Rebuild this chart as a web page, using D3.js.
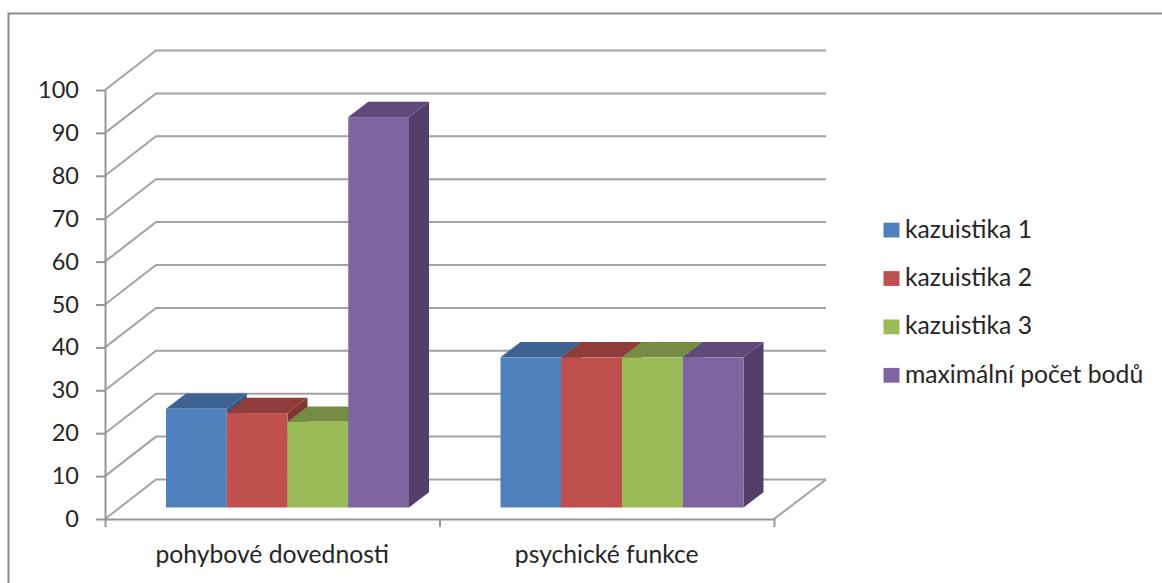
<!DOCTYPE html>
<html>
<head>
<meta charset="utf-8">
<script src="https://cdnjs.cloudflare.com/ajax/libs/d3/7.8.5/d3.min.js"></script>
<style>
html, body { margin: 0; padding: 0; background: #fff; }
svg { display: block; }
text { font-family: Lato, "Open Sans", sans-serif; fill: #262626; }
</style>
</head>
<body>
<svg id="chart" width="1162" height="583"></svg>
<script>
var categories = ["pohybové dovednosti", "psychické funkce"];
var seriesNames = ["kazuistika 1", "kazuistika 2", "kazuistika 3", "maximální počet bodů"];
var kazuistika1 = [23, 35];
var kazuistika2 = [22, 35];
var kazuistika3 = [20, 35];
var maxBody = [91, 35];
var yTicks = [0, 10, 20, 30, 40, 50, 60, 70, 80, 90, 100];
var colors = ["#4f81bd", "#c0504d", "#9bbb59", "#8064a2"];
var topColors = ["#3c6391", "#8f3c3a", "#758d43", "#604a7b"];
var sideColors = ["#355882", "#803533", "#68803b", "#533f69"];

var allSeries = [kazuistika1, kazuistika2, kazuistika3, maxBody];

var svg = d3.select("#chart");
var fontSize = 24.7;
var tickFontSize = 23.5;

// floor of the chart, wall sits back by wallDx/wallDy
var left = 105, right = 774, top100 = 90, bottom0 = 519;
var wallDx = 51, wallDy = 39.5;
var barShiftY = 11.5, barDx = 20, barDy = 15.3;

var y = d3.scaleLinear().domain([0, 100]).range([bottom0, top100]);
var xEdge = d3.scaleLinear().domain([0, categories.length]).range([left, right]);
var xBand = d3.scaleBand().domain(categories).range([left, right]);
var xBar = d3.scaleBand().domain(d3.range(seriesNames.length)).range([61, 304]);

// outer frame, only the top and left edge are on the sheet
svg.append("path")
  .attr("d", "M8.5,583V13.5H1162")
  .attr("fill", "none")
  .attr("stroke", "#8c8c8c")
  .attr("stroke-width", 2);

// grid lines running over the side wall and the back wall
svg.append("g").selectAll("path")
  .data(yTicks)
  .enter().append("path")
  .attr("d", function (d) {
    var p = d3.path();
    p.moveTo(left, y(d));
    p.lineTo(left + wallDx, y(d) - wallDy);
    p.lineTo(right + wallDx + 1, y(d) - wallDy);
    return p.toString();
  })
  .attr("fill", "none")
  .attr("stroke", "#a3a3a3")
  .attr("stroke-width", 2);

// right edge of the floor
svg.append("path")
  .attr("d", d3.line()([[right, bottom0], [right + wallDx + 1, bottom0 - wallDy]]))
  .attr("stroke", "#a3a3a3")
  .attr("stroke-width", 2);

// axes
var yAxis = d3.axisLeft(y)
  .tickValues(yTicks)
  .tickSizeInner(9)
  .tickSizeOuter(0)
  .tickPadding(17);
var gy = svg.append("g")
  .attr("transform", "translate(" + left + ",0)")
  .call(yAxis);
gy.selectAll("text").attr("font-size", tickFontSize).style("font-family", null);

var xTicks = d3.axisBottom(xEdge)
  .tickValues(d3.range(categories.length + 1))
  .tickFormat("")
  .tickSizeInner(8)
  .tickSizeOuter(0);
var gx = svg.append("g")
  .attr("transform", "translate(0," + bottom0 + ")")
  .call(xTicks);

var xLabels = d3.axisBottom(xBand).tickSize(0).tickPadding(26);
var gl = svg.append("g")
  .attr("transform", "translate(0," + bottom0 + ")")
  .call(xLabels);
gl.select(".domain").remove();
gl.selectAll("text").attr("font-size", fontSize).style("font-family", null);

[gy, gx].forEach(function (g) {
  g.selectAll(".domain, line").attr("stroke", "#969696").attr("stroke-width", 2);
});

// bars, painted left to right so each front hides the previous side
var bars = [];
categories.forEach(function (c, ci) {
  allSeries.forEach(function (vals, si) {
    bars.push({ c: c, s: si, v: vals[ci] });
  });
});

var barG = svg.append("g").selectAll("g")
  .data(bars)
  .enter().append("g");

function barBox(d) {
  var x0 = xBand(d.c) + xBar(d.s);
  return {
    x0: x0,
    x1: x0 + xBar.bandwidth(),
    y0: y(d.v) - barShiftY,
    y1: y(0) - barShiftY
  };
}

barG.append("path")
  .attr("d", function (d) {
    var b = barBox(d);
    return d3.line()([[b.x1, b.y0], [b.x1 + barDx, b.y0 - barDy], [b.x1 + barDx, b.y1 - barDy], [b.x1, b.y1]]) + "Z";
  })
  .attr("fill", function (d) { return sideColors[d.s]; });

barG.append("path")
  .attr("d", function (d) {
    var b = barBox(d);
    return d3.line()([[b.x0, b.y0], [b.x0 + barDx, b.y0 - barDy], [b.x1 + barDx, b.y0 - barDy], [b.x1, b.y0]]) + "Z";
  })
  .attr("fill", function (d) { return topColors[d.s]; });

barG.append("rect")
  .attr("x", function (d) { return barBox(d).x0; })
  .attr("y", function (d) { return barBox(d).y0; })
  .attr("width", xBar.bandwidth())
  .attr("height", function (d) { var b = barBox(d); return b.y1 - b.y0; })
  .attr("fill", function (d) { return colors[d.s]; });

// legend
var legend = svg.append("g").selectAll("g")
  .data(seriesNames)
  .enter().append("g")
  .attr("transform", function (d, i) { return "translate(883.5," + (237.5 + i * 48.4) + ")"; });

legend.append("rect")
  .attr("y", -14.8)
  .attr("width", 16)
  .attr("height", 14.8)
  .attr("fill", function (d, i) { return colors[i]; });

legend.append("text")
  .attr("x", 21.5)
  .attr("font-size", fontSize)
  .text(function (d) { return d; });
</script>
</body>
</html>
